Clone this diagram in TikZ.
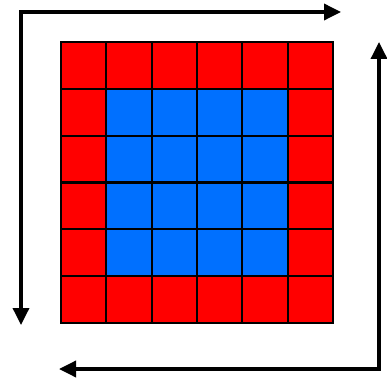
\documentclass[tikz,border=0pt]{standalone}
\usetikzlibrary{arrows.meta}
\definecolor{cellred}{RGB}{255,0,0}
\definecolor{cellblue}{RGB}{0,112,255}
\begin{document}
\begin{tikzpicture}[x=1pt,y=-1pt,
  cell/.style={draw=black,line width=2.2pt},
  arr/.style={line width=3.5pt,line join=miter,{Triangle[length=17pt,width=16pt]}-{Triangle[length=17pt,width=16pt]}}]
\useasboundingbox (0,0) rectangle (387,379);
\def\gx{61}\def\gy{42}\def\cw{45.33}\def\ch{46.83}
\foreach \i in {0,...,5}{
  \foreach \j in {0,...,5}{
    \pgfmathsetmacro{\inner}{(\i>0)&&(\i<5)&&(\j>0)&&(\j<5)}
    \ifdim\inner pt>0.5pt
      \def\fc{cellblue}
    \else
      \def\fc{cellred}
    \fi
    \draw[cell,fill=\fc] (\gx+\i*\cw,\gy+\j*\ch) rectangle ++(\cw,\ch);
  }
}
\coordinate (tl) at (21,12);
\coordinate (rt) at (341,12);
\coordinate (dl) at (21,325);
\coordinate (br) at (379,369);
\coordinate (up) at (379,42);
\coordinate (bl) at (59,369);
\draw[arr] (dl) -- (tl) -- (rt);
\draw[arr] (up) -- (br) -- (bl);
\end{tikzpicture}
\end{document}
